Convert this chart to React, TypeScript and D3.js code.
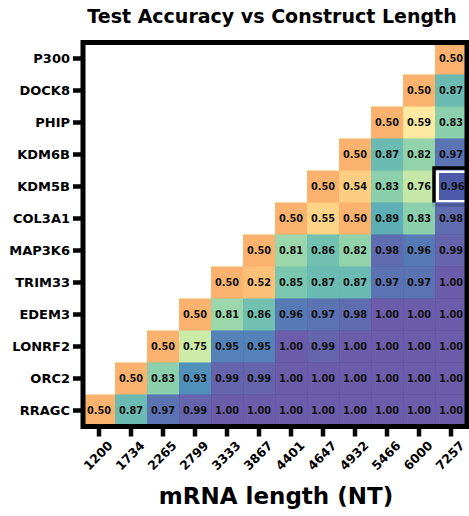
import React from "react";
import * as d3 from "d3";

const genes = ["P300", "DOCK8", "PHIP", "KDM6B", "KDM5B", "COL3A1", "MAP3K6", "TRIM33", "EDEM3", "LONRF2", "ORC2", "RRAGC"];
const lengths = ["1200", "1734", "2265", "2799", "3333", "3867", "4401", "4647", "4932", "5466", "6000", "7257"];

// each row lists values for the rightmost columns (ending at 7257)
const rowP300 = [0.50];
const rowDOCK8 = [0.50, 0.87];
const rowPHIP = [0.50, 0.59, 0.83];
const rowKDM6B = [0.50, 0.87, 0.82, 0.97];
const rowKDM5B = [0.50, 0.54, 0.83, 0.76, 0.96];
const rowCOL3A1 = [0.50, 0.55, 0.50, 0.89, 0.83, 0.98];
const rowMAP3K6 = [0.50, 0.81, 0.86, 0.82, 0.98, 0.96, 0.99];
const rowTRIM33 = [0.50, 0.52, 0.85, 0.87, 0.87, 0.97, 0.97, 1.00];
const rowEDEM3 = [0.50, 0.81, 0.86, 0.96, 0.97, 0.98, 1.00, 1.00, 1.00];
const rowLONRF2 = [0.50, 0.75, 0.95, 0.95, 1.00, 0.99, 1.00, 1.00, 1.00, 1.00];
const rowORC2 = [0.50, 0.83, 0.93, 0.99, 0.99, 1.00, 1.00, 1.00, 1.00, 1.00, 1.00];
const rowRRAGC = [0.50, 0.87, 0.97, 0.99, 1.00, 1.00, 1.00, 1.00, 1.00, 1.00, 1.00, 1.00];

const rows = [rowP300, rowDOCK8, rowPHIP, rowKDM6B, rowKDM5B, rowCOL3A1, rowMAP3K6, rowTRIM33, rowEDEM3, rowLONRF2, rowORC2, rowRRAGC];

const highlightGene = "KDM5B";
const highlightLength = "7257";

const FONT = "'DejaVu Sans', sans-serif";

export default function App() {
  const W = 469, H = 516;
  const x0 = 83, y0 = 42.5, cell = 32;
  const x = d3.scaleBand<string>().domain(lengths).range([x0, x0 + cell * lengths.length]);
  const y = d3.scaleBand<string>().domain(genes).range([y0, y0 + cell * genes.length]);
  const color = (v: number) => d3.interpolateSpectral(Math.max(0, Math.min(1, (v - 0.286) / 0.714)));

  const cells: { g: string; l: string; v: number }[] = [];
  rows.forEach((r, i) => {
    const offset = lengths.length - r.length;
    r.forEach((v, j) => cells.push({ g: genes[i], l: lengths[offset + j], v }));
  });

  const xR = x0 + cell * lengths.length;
  const yB = y0 + cell * genes.length;
  const bw = x.bandwidth();
  const bh = y.bandwidth();

  return (
    <svg width={W} height={H} style={{ position: "absolute", left: 0, top: 0, background: "#fff" }} fontFamily={FONT}>
      <text x={272} y={23} textAnchor="middle" fontWeight="bold" fontSize={19}>Test Accuracy vs Construct Length</text>
      {cells.map((c, i) => {
        const hl = c.g === highlightGene && c.l === highlightLength;
        const cx = x(c.l)!, cy = y(c.g)!;
        return (
          <g key={i}>
            <rect x={cx} y={cy} width={bw + 0.5} height={bh + 0.5} fill={color(c.v)} fillOpacity={0.92} />
            {hl && (
              <g>
                <rect x={cx} y={cy} width={bw} height={bh} fill="#fff" />
                <rect x={cx + 4} y={cy + 2.5} width={bw - 5} height={bh - 5} fill="#4b5aa9" />
                <rect x={cx - 1} y={cy - 2.5} width={bw + 4} height={bh + 5} fill="none" stroke="#000" strokeWidth={3.5} />
              </g>
            )}
            <text x={cx + bw / 2 + (hl ? 1.5 : 0)} y={cy + bh / 2} dy="0.36em" textAnchor="middle" fontWeight="bold" fontSize={9.8} fill="#111">
              {c.v.toFixed(2)}
            </text>
          </g>
        );
      })}
      {/* frame */}
      <rect x={x0} y={y0} width={xR - x0} height={yB - y0} fill="none" stroke="#000" strokeWidth={5} />
      {/* y ticks */}
      {genes.map((g) => {
        const cy = y(g)! + bh / 2;
        return (
          <g key={g}>
            <line x1={x0 - 10} x2={x0} y1={cy} y2={cy} stroke="#000" strokeWidth={4.5} />
            <text x={70} y={cy} dy="0.36em" textAnchor="end" fontWeight="bold" fontSize={13}>{g}</text>
          </g>
        );
      })}
      {/* x ticks */}
      {lengths.map((l) => {
        const cx = x(l)! + bw / 2;
        return (
          <g key={l}>
            <line x1={cx} x2={cx} y1={yB} y2={yB + 10} stroke="#000" strokeWidth={4.5} />
            <text transform={`translate(${cx - 1},${yB + 29}) rotate(-45)`} dy="0.36em" textAnchor="middle" fontWeight="bold" fontSize={12.5}>{l}</text>
          </g>
        );
      })}
      <text x={276} y={504} textAnchor="middle" fontWeight="bold" fontSize={23}>mRNA length (NT)</text>
    </svg>
  );
}
